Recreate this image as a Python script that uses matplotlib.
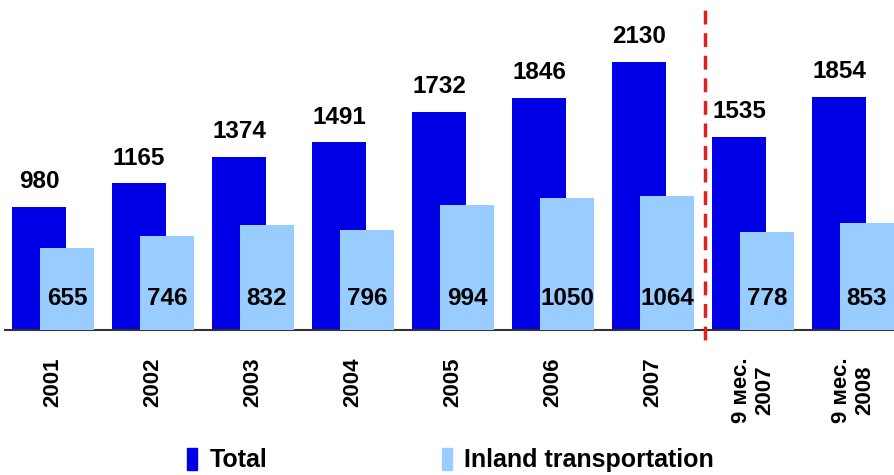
import matplotlib.pyplot as plt
import numpy as np
from matplotlib.patches import Patch

plt.rcParams['font.family'] = ['Liberation Sans', 'DejaVu Sans']

categories = ['2001', '2002', '2003', '2004', '2005', '2006', '2007',
              '9 мес.\n2007', '9 мес.\n2008']
total = [980, 1165, 1374, 1491, 1732, 1846, 2130, 1535, 1854]
inland = [655, 746, 832, 796, 994, 1050, 1064, 778, 853]

c_total = '#0000e6'
c_inland = '#99ccff'

fig = plt.figure(figsize=(8.95, 4.75), dpi=100)
ax = fig.add_axes([5 / 895, 1 - 330 / 475, 890 / 895, 330 / 475])

x = np.arange(len(categories))
w = 0.54
ax.bar(x - 0.14, total, w, color=c_total, zorder=2)
ax.bar(x + 0.14, inland, w, color=c_inland, zorder=3)

for i in range(len(categories)):
    ax.text(x[i] - 0.14, total[i] + 200, str(total[i]), ha='center', va='center',
            fontsize=17.5, fontweight='bold')
    ax.text(x[i] + 0.14, 250, str(inland[i]), ha='center', va='center',
            fontsize=17.5, fontweight='bold', zorder=4)

ax.set_xlim(-0.48, 8.42)
ax.set_ylim(0, 2623)
ax.axvline(6.52, ymin=-0.03, ymax=0.985, color='#e02020', lw=2.5,
           ls=(0, (4, 2.5)), clip_on=False, zorder=5)

for s in ['top', 'right', 'left']:
    ax.spines[s].set_visible(False)
ax.spines['bottom'].set_color('#333333')
ax.spines['bottom'].set_linewidth(1.5)
ax.set_yticks([])
ax.set_xticks(x)
ax.set_xticklabels(categories, rotation=90, fontsize=16, fontweight='bold',
                   linespacing=1.15, multialignment='center')
ax.tick_params(axis='x', length=0, pad=20)

handles = [Patch(color=c_total), Patch(color=c_inland)]
fig.legend(handles, ['Total', 'Inland transportation'], loc='center left',
           bbox_to_anchor=(175 / 895, 1 - 460 / 475), ncol=2, frameon=False,
           prop={'size': 18, 'weight': 'bold'}, handlelength=0.4,
           handleheight=1.0, handletextpad=0.5, columnspacing=6.95,
           borderpad=0)

fig.savefig('out.png', dpi=100)
